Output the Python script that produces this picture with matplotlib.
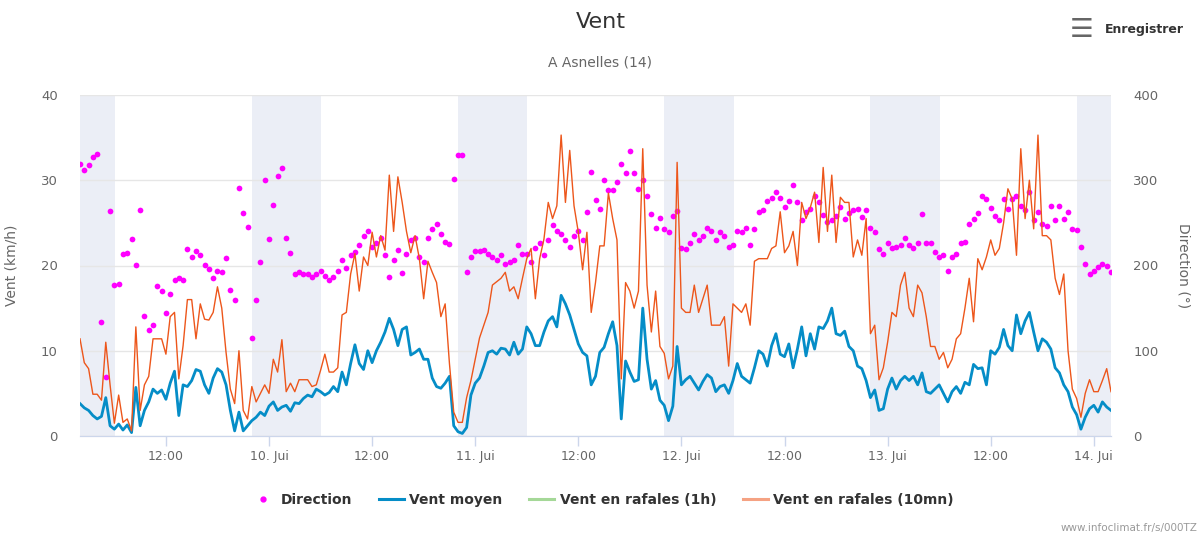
import numpy as np
import matplotlib
matplotlib.use('Agg')
import matplotlib.pyplot as plt
import matplotlib.dates as mdates
from matplotlib.lines import Line2D
from matplotlib.ticker import FuncFormatter, MultipleLocator

# half-hourly readings, 9 Jun 02:00 -> 14 Jun 02:00
start = np.datetime64('2018-06-09T02:00')
end = np.datetime64('2018-06-14T02:00')

vent_moyen = [
    3.8, 3.3, 3.0, 2.4, 2.0, 2.3, 4.5, 1.2, 0.8, 1.4, 0.7, 1.3, 0.4, 5.7, 1.2, 3.0, 4.0, 5.5, 5.0, 5.4, 4.3, 6.2, 7.6, 2.4,
    6.0, 5.8, 6.5, 7.8, 7.6, 6.0, 5.0, 6.8, 7.9, 7.5, 6.0, 3.0, 0.6, 2.8, 0.6, 1.2, 1.8, 2.2, 2.8, 2.4, 3.5, 4.0, 3.0, 3.4,
    3.6, 2.9, 3.9, 3.8, 4.4, 4.8, 4.6, 5.5, 5.2, 4.8, 5.1, 5.8, 5.2, 7.5, 6.0, 8.5, 10.7, 8.5, 7.8, 10.0, 8.6, 10.0, 11.0, 12.2,
    13.8, 12.5, 10.6, 12.5, 12.8, 9.5, 9.8, 10.2, 9.0, 9.0, 6.8, 5.8, 5.6, 6.2, 7.0, 1.2, 0.5, 0.3, 1.0, 4.8, 6.2, 6.8, 8.2, 9.8,
    10.0, 9.6, 10.3, 10.2, 9.5, 11.0, 9.6, 10.2, 12.8, 12.0, 10.6, 10.6, 12.2, 13.5, 14.0, 12.8, 16.5, 15.5, 14.2, 12.5, 10.8, 9.8, 9.4, 6.0,
    7.0, 9.8, 10.4, 12.0, 13.4, 10.6, 2.0, 8.8, 7.5, 6.4, 6.6, 15.0, 9.0, 5.5, 6.5, 4.2, 3.6, 1.8, 3.5, 10.5, 6.0, 6.6, 7.0, 6.2,
    5.4, 6.4, 7.2, 6.8, 5.2, 5.8, 6.0, 5.0, 6.5, 8.5, 7.0, 6.6, 6.2, 8.0, 10.0, 9.6, 8.2, 10.6, 12.0, 9.6, 9.3, 10.8, 8.0, 10.2,
    12.8, 9.4, 12.0, 10.2, 12.8, 12.6, 13.5, 15.0, 12.0, 11.8, 12.3, 10.5, 10.0, 8.2, 7.9, 6.5, 4.5, 5.4, 3.0, 3.2, 5.5, 6.8, 5.5, 6.5,
    7.0, 6.5, 7.0, 6.0, 7.4, 5.2, 5.0, 5.5, 6.0, 5.0, 4.0, 5.2, 5.8, 5.0, 6.3, 6.0, 8.4, 7.9, 8.0, 6.0, 10.0, 9.6, 10.4, 12.5,
    10.6, 10.0, 14.2, 12.0, 13.5, 14.5, 12.2, 10.0, 11.4, 11.0, 10.2, 8.0, 7.4, 6.0, 5.2, 3.4, 2.5, 0.8, 2.2, 3.2, 3.6, 2.8, 4.0, 3.4, 3.0,
]

rafales_10mn = [
    11.4, 8.6, 7.9, 4.9, 4.9, 4.2, 11.0, 6.0, 1.5, 4.8, 1.6, 2.0, 0.6, 12.8, 3.0, 6.0, 7.0, 11.4, 11.4, 11.4, 9.6, 14.0, 14.5, 6.7,
    10.6, 16.0, 16.0, 11.4, 15.5, 13.7, 13.6, 14.5, 17.5, 15.0, 9.8, 5.5, 3.8, 10.0, 3.0, 2.0, 5.8, 4.0, 5.0, 6.0, 5.0, 9.0, 7.5, 11.3,
    5.2, 6.2, 5.2, 6.6, 6.6, 6.6, 5.8, 6.0, 7.7, 9.6, 7.5, 7.5, 8.0, 14.2, 14.5, 19.0, 21.4, 17.0, 21.0, 20.0, 23.9, 21.0, 23.5, 21.8,
    30.6, 24.0, 30.4, 27.4, 24.0, 21.5, 23.5, 20.8, 16.1, 20.5, 19.2, 18.0, 14.0, 15.5, 8.5, 2.8, 1.6, 1.6, 4.5, 6.5, 9.0, 11.5, 13.0, 14.5,
    17.7, 18.1, 18.5, 19.2, 17.0, 17.5, 16.1, 18.5, 20.8, 22.0, 16.1, 20.8, 23.1, 27.4, 25.5, 27.0, 35.3, 27.4, 33.5, 27.0, 23.9, 19.5, 23.9, 14.5,
    18.0, 22.3, 22.3, 28.5, 25.5, 23.0, 6.7, 18.0, 17.0, 15.0, 17.0, 33.7, 17.7, 12.2, 17.0, 10.5, 9.7, 6.7, 8.2, 32.1, 15.0, 14.5, 14.5, 17.7,
    14.5, 16.1, 17.7, 13.0, 13.0, 13.0, 14.0, 8.2, 15.5, 15.0, 14.5, 15.5, 13.0, 20.5, 20.8, 20.8, 20.8, 22.0, 22.3, 26.3, 21.5, 22.3, 24.0, 20.0,
    27.4, 25.5, 26.8, 28.6, 22.7, 31.5, 24.0, 30.6, 22.7, 28.0, 27.4, 27.4, 21.0, 23.0, 21.2, 25.5, 12.0, 13.0, 6.6, 8.0, 11.0, 14.5, 14.0, 17.7,
    19.2, 15.0, 14.0, 17.7, 16.8, 14.0, 10.5, 10.5, 9.0, 9.8, 8.0, 9.0, 11.4, 12.0, 15.0, 18.5, 13.4, 20.8, 19.5, 21.0, 23.0, 21.2, 22.0, 25.0,
    29.0, 27.8, 21.2, 33.7, 25.5, 30.0, 24.3, 35.3, 23.5, 23.5, 23.0, 18.5, 16.6, 19.0, 10.0, 5.5, 4.4, 2.2, 5.0, 6.6, 5.2, 5.2, 6.5, 7.9, 5.2,
]

rafales_1h = []  # no data in this period

direction = [
    319, 312, 318, 327, 331, 134, 69, 264, 177, 178, 213, 215, 231, 201, 265, 141, 124, 130, 176, 170, 144, 166, 183, 185,
    183, 219, 210, 217, 212, 201, 196, 185, 194, 192, 209, 171, 160, 291, 262, 245, 115, 160, 204, 300, 231, 271, 305, 314,
    232, 215, 190, 192, 190, 190, 186, 190, 193, 188, 183, 187, 194, 206, 197, 212, 216, 224, 235, 241, 222, 226, 232, 212,
    187, 206, 218, 191, 214, 230, 232, 210, 204, 232, 243, 249, 237, 227, 225, 302, 330, 330, 192, 210, 217, 217, 218, 214,
    210, 206, 212, 202, 204, 206, 224, 214, 214, 204, 220, 226, 212, 230, 248, 241, 237, 230, 222, 235, 241, 230, 263, 310,
    277, 266, 300, 289, 288, 298, 319, 309, 334, 309, 290, 300, 281, 260, 244, 256, 243, 239, 258, 264, 221, 219, 226, 237,
    230, 235, 244, 241, 230, 239, 235, 222, 224, 241, 239, 244, 224, 243, 263, 265, 276, 279, 286, 279, 269, 276, 294, 274,
    253, 263, 266, 281, 274, 259, 251, 253, 258, 269, 255, 261, 265, 266, 257, 265, 244, 239, 219, 214, 226, 220, 222, 224,
    232, 224, 220, 226, 260, 226, 226, 216, 210, 212, 193, 210, 214, 226, 228, 249, 255, 261, 281, 278, 268, 258, 253, 278,
    266, 278, 282, 270, 265, 286, 253, 263, 249, 246, 270, 253, 270, 255, 263, 243, 242, 222, 202, 190, 194, 198, 202, 200, 192,
]

# night periods (sunset -> sunrise)
night_start = ['2018-06-08T22:00', '2018-06-09T22:00', '2018-06-10T22:00',
               '2018-06-11T22:00', '2018-06-12T22:00', '2018-06-13T22:00']
night_end = ['2018-06-09T06:05', '2018-06-10T06:05', '2018-06-11T06:05',
             '2018-06-12T06:05', '2018-06-13T06:05', '2018-06-14T06:05']

times = start + np.arange(len(vent_moyen)) * np.timedelta64(30, 'm')

plt.rcParams['font.family'] = ['DejaVu Sans']

fig = plt.figure(figsize=(12.01, 5.35), dpi=100)
ax = fig.add_axes([80 / 1201, 1 - 436 / 535, 1031 / 1201, 341 / 535])
ax2 = ax.twinx()
# lines on top of the direction dots
ax.set_zorder(ax2.get_zorder() + 1)
ax.patch.set_visible(False)

for s, e in zip(night_start, night_end):
    ax2.axvspan(np.datetime64(s), np.datetime64(e), color='#ebeef6', lw=0, zorder=0.2)

ax2.scatter(times, direction, s=17, color='#ff00ff', linewidths=0, zorder=2)
ax.plot(times, vent_moyen, color='#058dc7', lw=2.0, zorder=3)
ax.plot(times[:len(rafales_1h)], rafales_1h, color='#50b432', lw=1.0)
ax.plot(times, rafales_10mn, color='#ed561b', lw=1.0, zorder=4)

ax.set_xlim(start, end)
ax.set_ylim(0, 40)
ax2.set_ylim(0, 400)
ax.yaxis.set_major_locator(MultipleLocator(10))
ax2.yaxis.set_major_locator(MultipleLocator(100))

ax2.yaxis.grid(True, color='#e6e6e6', lw=1)
ax2.set_axisbelow(True)

for a in (ax, ax2):
    for side in ('top', 'left', 'right'):
        a.spines[side].set_visible(False)
    a.spines['bottom'].set_color('#ccd6eb')

def day_fmt(x, pos):
    d = mdates.num2date(x)
    if d.hour == 0:
        return f"{d.day}. Jui"
    return d.strftime('%H:%M')

ax.xaxis.set_major_locator(mdates.HourLocator(byhour=[0, 12]))
ax.xaxis.set_major_formatter(FuncFormatter(day_fmt))
ax.tick_params(axis='x', colors='#ccd6eb', length=7, width=1, pad=3, labelcolor='#666666', labelsize=9)
ax.tick_params(axis='y', length=0, pad=16, labelcolor='#666666', labelsize=9.5)
ax2.tick_params(axis='y', length=0, pad=16, labelcolor='#666666', labelsize=9.5)

ax.set_ylabel('Vent (km/h)', color='#666666', fontsize=10)
ax.yaxis.set_label_coords(-0.060, 0.5)
ax2.set_ylabel('Direction (°)', color='#666666', fontsize=10, rotation=270, va='center')
ax2.yaxis.set_label_coords(1.070, 0.5)

fig.text(0.5, 1 - 22 / 535, 'Vent', ha='center', va='center', fontsize=16, color='#333333')
fig.text(0.5, 1 - 63 / 535, 'A Asnelles (14)', ha='center', va='center', fontsize=10, color='#666666')
fig.text(1082 / 1201, 1 - 30 / 535, '\u2630', ha='center', va='center', fontsize=19,
         fontweight='bold', color='#666666')
fig.text(1105 / 1201, 1 - 30 / 535, 'Enregistrer', ha='left', va='center', fontsize=9,
         fontweight='bold', color='#333333')
fig.text(1197 / 1201, 1 - 528 / 535, 'www.infoclimat.fr/s/000TZ', ha='right', va='center',
         fontsize=7.5, color='#999999')

handles = [
    Line2D([], [], ls='none', marker='o', markersize=3.5, color='#ff00ff'),
    Line2D([], [], color='#058dc7', lw=2.2),
    Line2D([], [], color='#a5d898', lw=2.2),
    Line2D([], [], color='#f5a283', lw=2.2),
]
labels = ['Direction', 'Vent moyen', 'Vent en rafales (1h)', 'Vent en rafales (10mn)']
fig.legend(handles, labels, loc='center', bbox_to_anchor=(602 / 1201, 1 - 500 / 535), ncol=4,
           frameon=False, handlelength=1.8, handletextpad=0.4, columnspacing=1.9,
           prop={'weight': 'bold', 'size': 10}, labelcolor='#333333')

fig.savefig('out.png', dpi=100)
